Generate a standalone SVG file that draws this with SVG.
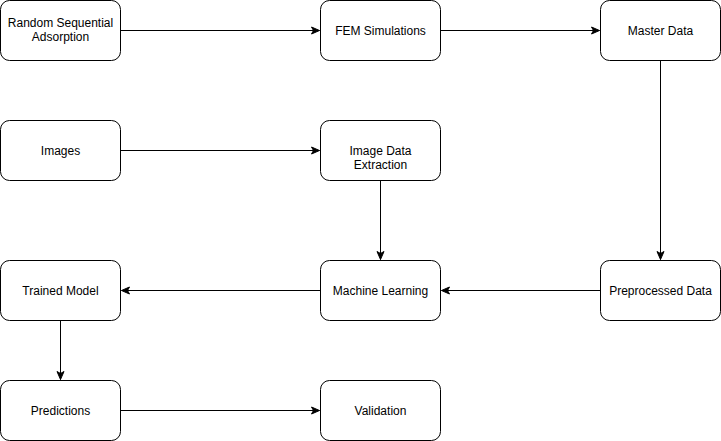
<svg xmlns="http://www.w3.org/2000/svg" width="721" height="441" viewBox="0 0 721 441">
<defs>
<marker id="arr" markerUnits="userSpaceOnUse" markerWidth="10" markerHeight="10" viewBox="0 0 10 10" refX="9" refY="5" orient="auto">
<path d="M1,1.5 L9,5 L1,8.5 L3,5 Z" fill="#000" stroke="#000" stroke-width="1"/>
</marker>
</defs>
<style>
.box{fill:#fff;stroke:#000;stroke-width:1}
.lbl{font-family:"Liberation Sans",Arial,sans-serif;font-size:12px;fill:#000;text-anchor:middle}
.edge{fill:none;stroke:#000;stroke-width:1;marker-end:url(#arr)}
</style>
<rect width="721" height="441" fill="#fff"/>
<g id="connectors">
<path class="edge" d="M120.5,30.5 L319.5,30.5"/>
<path class="edge" d="M440.5,30.5 L599.5,30.5"/>
<path class="edge" d="M660.5,60.5 L660.5,259.5"/>
<path class="edge" d="M120.5,150.5 L319.5,150.5"/>
<path class="edge" d="M380.5,180.5 L380.5,259.5"/>
<path class="edge" d="M600.5,290.5 L441.5,290.5"/>
<path class="edge" d="M320.5,290.5 L121.5,290.5"/>
<path class="edge" d="M60.5,320.5 L60.5,379.5"/>
<path class="edge" d="M120.5,410.5 L319.5,410.5"/>
</g>
<g id="rsa"><rect class="box" x="0.5" y="0.5" width="120" height="60" rx="9"/><text class="lbl" x="60.5" y="27">Random Sequential</text><text class="lbl" x="60.5" y="41">Adsorption</text></g>
<g id="fem"><rect class="box" x="320.5" y="0.5" width="120" height="60" rx="9"/><text class="lbl" x="380.5" y="34.5">FEM Simulations</text></g>
<g id="master"><rect class="box" x="600.5" y="0.5" width="120" height="60" rx="9"/><text class="lbl" x="660.5" y="34.5">Master Data</text></g>
<g id="images"><rect class="box" x="0.5" y="120.5" width="120" height="60" rx="9"/><text class="lbl" x="60.5" y="154.5">Images</text></g>
<g id="ide"><rect class="box" x="320.5" y="120.5" width="120" height="60" rx="9"/><text class="lbl" x="380.5" y="155">Image Data</text><text class="lbl" x="380.5" y="169">Extraction</text></g>
<g id="trained"><rect class="box" x="0.5" y="260.5" width="120" height="60" rx="9"/><text class="lbl" x="60.5" y="294.5">Trained Model</text></g>
<g id="ml"><rect class="box" x="320.5" y="260.5" width="120" height="60" rx="9"/><text class="lbl" x="380.5" y="294.5">Machine Learning</text></g>
<g id="prep"><rect class="box" x="600.5" y="260.5" width="120" height="60" rx="9"/><text class="lbl" x="660.5" y="294.5">Preprocessed Data</text></g>
<g id="pred"><rect class="box" x="0.5" y="380.5" width="120" height="60" rx="9"/><text class="lbl" x="60.5" y="414.5">Predictions</text></g>
<g id="valid"><rect class="box" x="320.5" y="380.5" width="120" height="60" rx="9"/><text class="lbl" x="380.5" y="414.5">Validation</text></g>
</svg>
